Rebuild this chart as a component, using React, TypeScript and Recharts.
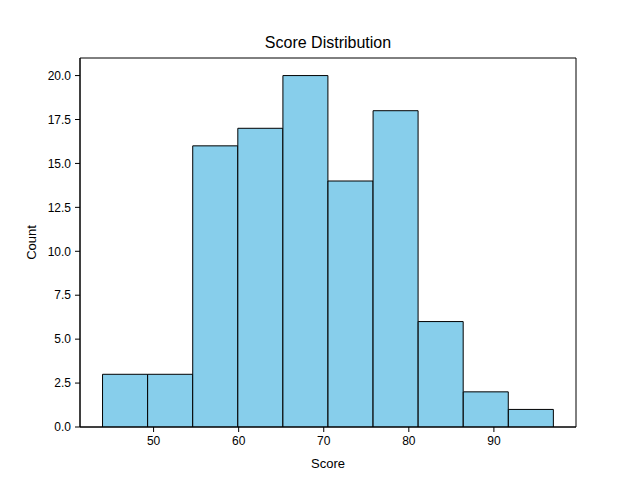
import { BarChart, Bar, XAxis, YAxis, ReferenceArea } from 'recharts'

// histogram bins (10 bins from 44 to 97)
const binEdges = [44, 49.3, 54.6, 59.9, 65.2, 70.5, 75.8, 81.1, 86.4, 91.7, 97]
const counts = [3, 3, 16, 17, 20, 14, 18, 6, 2, 1]
const xTicks = [50, 60, 70, 80, 90]
const yTicks = [0, 2.5, 5, 7.5, 10, 12.5, 15, 17.5, 20]

const xDomain: [number, number] = [41.35, 99.65]
const yDomain: [number, number] = [0, 21]

const data = counts.map((c, i) => ({
  center: (binEdges[i] + binEdges[i + 1]) / 2,
  count: c,
}))

const font = '"Liberation Sans", Arial, sans-serif'
const tickStyle = { fontSize: 12, fill: '#000', fontFamily: font }

function YLabel({ viewBox }: any) {
  const cy = viewBox.y + viewBox.height / 2
  return (
    <text
      x={31}
      y={cy}
      transform={`rotate(-90, 31, ${cy})`}
      textAnchor="middle"
      dominantBaseline="central"
      fontSize={13}
      fontFamily={font}
      fill="#000"
    >
      Count
    </text>
  )
}

function XLabel({ viewBox }: any) {
  const cx = viewBox.x + viewBox.width / 2
  return (
    <text
      x={cx}
      y={463}
      textAnchor="middle"
      dominantBaseline="central"
      fontSize={13}
      fontFamily={font}
      fill="#000"
    >
      Score
    </text>
  )
}

export default function App() {
  return (
    <div style={{ position: 'absolute', left: 0, top: 0, width: 640, height: 480, background: '#fff' }}>
      <div
        style={{
          position: 'absolute',
          left: 80,
          width: 496,
          top: 33,
          textAlign: 'center',
          fontFamily: font,
          fontSize: 16,
          lineHeight: '20px',
          color: '#000',
        }}
      >
        Score Distribution
      </div>
      <BarChart
        width={640}
        height={480}
        data={data}
        margin={{ top: 58, right: 64, left: 0, bottom: 0 }}
        barCategoryGap={0}
        barGap={0}
      >
        <XAxis
          type="number"
          dataKey="center"
          domain={xDomain}
          ticks={xTicks}
          allowDataOverflow
          height={53}
          tick={tickStyle}
          tickSize={5}
          tickMargin={4}
          stroke="#000"
          label={<XLabel />}
        />
        <YAxis
          type="number"
          domain={yDomain}
          ticks={yTicks}
          allowDataOverflow
          width={80}
          tick={tickStyle}
          tickSize={5}
          tickMargin={4}
          tickFormatter={(v: number) => v.toFixed(1)}
          stroke="#000"
          label={<YLabel />}
        />
        <Bar
          dataKey="count"
          fill="#87CEEB"
          stroke="#000"
          strokeWidth={1}
          isAnimationActive={false}
        />
        <ReferenceArea
          x1={xDomain[0]}
          x2={xDomain[1]}
          y1={yDomain[0]}
          y2={yDomain[1]}
          fill="none"
          stroke="#000"
          strokeWidth={1}
          fillOpacity={0}
          ifOverflow="visible"
        />
      </BarChart>
    </div>
  )
}
